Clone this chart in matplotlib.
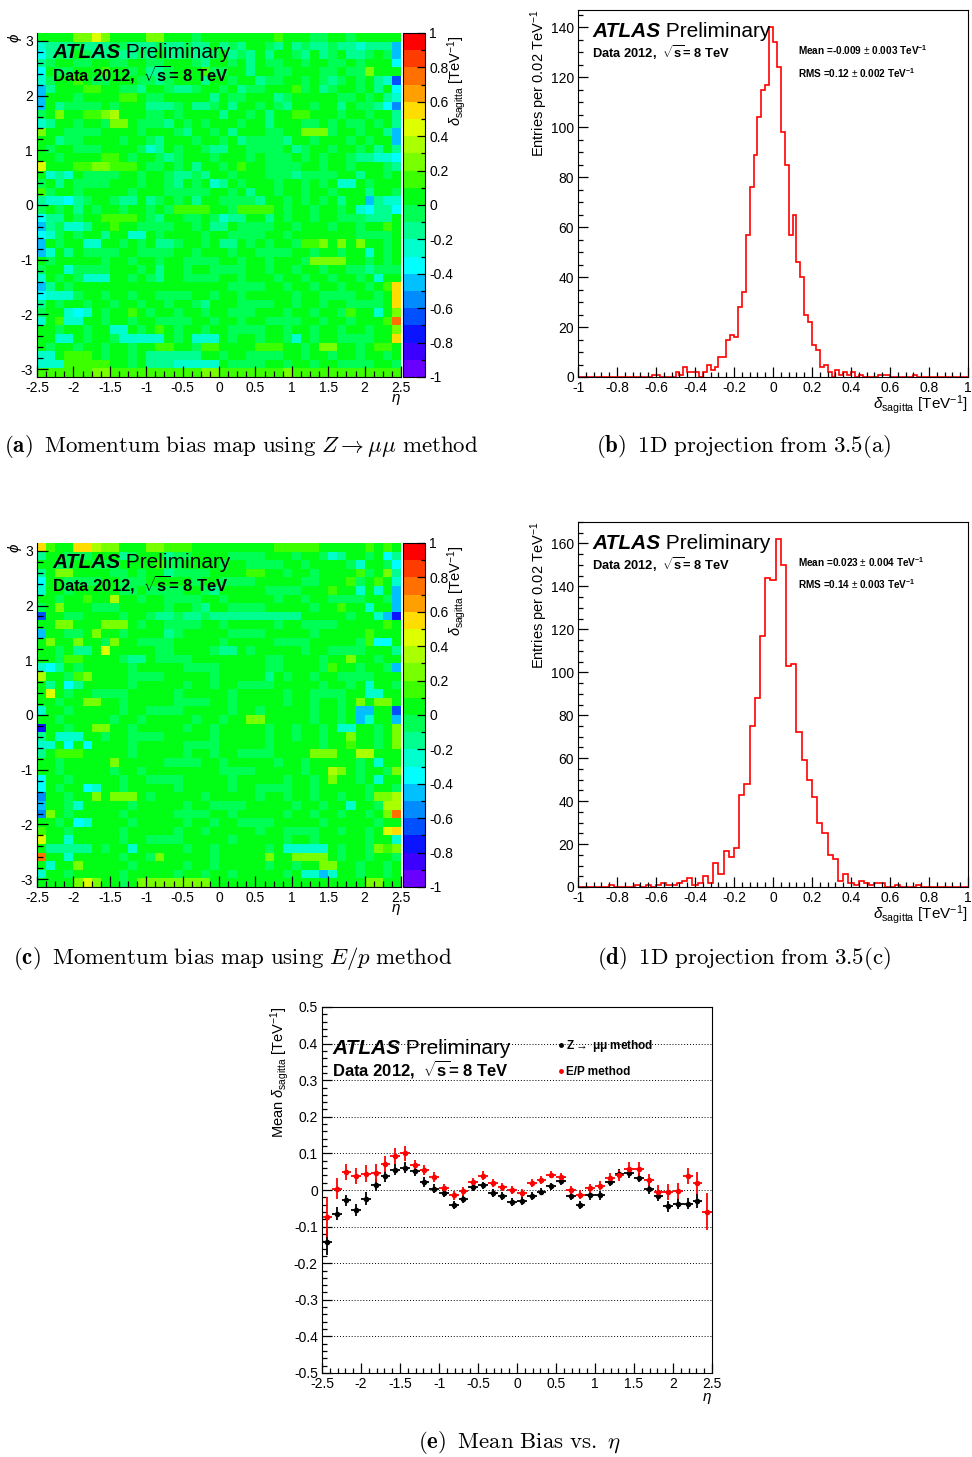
import numpy as np
import matplotlib
matplotlib.use('Agg')
import matplotlib.pyplot as plt
from matplotlib.colors import ListedColormap, BoundaryNorm
from matplotlib.ticker import MultipleLocator, FuncFormatter
from matplotlib.lines import Line2D

plt.rcParams['font.family'] = ['Liberation Sans', 'DejaVu Sans']
plt.rcParams['mathtext.fontset'] = 'custom'
plt.rcParams['mathtext.rm'] = 'Liberation Sans'
plt.rcParams['mathtext.it'] = 'Liberation Sans:italic'
plt.rcParams['mathtext.bf'] = 'Liberation Sans:bold'
plt.rcParams['axes.unicode_minus'] = False

W, H = 972, 1457

# ROOT-like palette, one colour per 0.1 step from -1 to 1
palette = ['#6a00ff', '#3c00ff', '#0a14ff', '#0050ff', '#008cff', '#00c0ff',
           '#00ffff', '#00ffcc', '#00ff90', '#00ff55', '#00ff14', '#3cff00',
           '#78ff00', '#aaff00', '#ddff00', '#ffdd00', '#ffa000', '#ff7000',
           '#ff3c00', '#ff0000']

# sagitta bias maps, one letter per (eta, phi) cell
# letter A..T = bin -1..-0.9 ... 0.9..1 ; rows go from phi=+pi (top) down
map_zmumu = [
    "KKKKMMOMKK KKMMKKKJKK KKKKKKLKKK JJKKJKKKKK",
    "HIIIJIIIJJ IIIJIIJIIK IJIKKJIKIJ IIJIIHIIIF",
    "GIJIKJIIJI IJIKIIJIIJ KIJIKIKKJI KIJKIIJKJF",
    "IJKKJJKKJJ KKJJKKKJIK KJKIKJJKKJ KKJJKJKKKG",
    "GKJJKKKLKK JKIIJKKKLJ JKKIKKJJKK KJJKJJMKKK",
    "HJKKLKJJKK KJJIJKKKIK KJKKIJJKKJ KJIJKJKIHD",
    "FIKKKLLKKJ JIKKJIIJKK JKIJJKKKLJ KIJKKJKIKG",
    "FKKKJKKKKL LKJJKKKKKI KJJKKKIJKK KKKJJKJKIH",
    "FKIJJJJKJK KKIIIJKIIJ KIKKJKJIKK JKKIKJJIGE",
    "JKMKKLLMNK KKJJKJKKKK IKKJKIKKLL KKKJKKJKKI",
    "HIKKJKKJMM KJJJIKJKJK KKJKKIKKKJ JKJKJJKJKI",
    "MKKJJJJKKK KJKKKJIKKJ KIKKKJJKKM MMJKKJKKIF",
    "KKIJJKKKKJ KKJIKKKJKK JKIJJJJIKK JKKKJKJKKF",
    "KJKKJJJKKK KJHIKJKKJI IKKJJJJKIJ KKJKKJKIKI",
    "KKJKKKKLLK JKKJIJKKKJ KKKJKJJJKJ KJKKJIIHHG",
    "OKKKLLMMLL LKJJKJKIKK JKLKKJJJJK KJKKJKKKJI",
    "KHIHKJJJJK KJKKJIIJIK KJKKKJJJIJ JJJKKIKKJK",
    "JKIKJJJJKK KJKKJIKJKH IKJKKKJKKJ KJKHHKJKKK",
    "LJKKJKKKKK JKKKJJJJJK KJKIKKJKKJ KKJKKKIKKJ",
    "IHHGIJKKJI IKIJKJKIKK JJJJIKKJKJ KJKIKKFIHH",
    "JKJKIKJKKJ KKJKJLLLLK KJLLLLKJKK JKKJKHGIIG",
    "GIIKJKKLLL LKJIKKJJKJ HIIKKIKJKK JKKJJJIIIK",
    "FIJHHIKKLK KJJJJKKJKI IKJJJJKKJK KKJKKJKKLK",
    "GHJKJKKIKK HHKJKKKKJK KJJJJKKJKK KKKKKJJJJK",
    "FKJKKHHKKJ KJKIIJKKJK IIKJKJKKJL LMKMKMKKJK",
    "FHKIKJJJJK KJJJJKKJKK KJKKJJJJKK JKKJKKHKJK",
    "KJKKKKKJKK JKKJKKJJJJ KKJKKJKKKJ MMMMKKJKJK",
    "JKKHJJJJKK KJKIKKJKKJ JJJKKJKKJK KJKKJJIJJJ",
    "HKJKJHHHKK JKJIKKJJJJ KKJKKKJKKJ KKJKKJKHKK",
    "FIKJKKKKKK KKKKKKKKKK KJJJJKKJKK JKKJKKJKLP",
    "GHHHJKKJKK JKKJJJJKKJ KKJKKKKKJK KJJJJKKJKP",
    "IKJKKJKKJK KJKKJKKJIK KKJJJJKKJK KJKKJJJJKP",
    "JKKHGHKJKK LKJKKJKKJK KJJJKKKJKK JKKJLKKHKM",
    "HKLHHKKJKK JKKJJJJKKJ KKJKKJJJJK KJKKJKKKLR",
    "KKJKKJKKHH KJKLKJKKJK KJJJJKKJKK JKKJKKJKKM",
    "KKHHKJKKJH HHHHKJKHHH KJKKJKKJHK JKKJJJJKKP",
    "KJKKJKKJKK JKKLLKKJLL KKKKLLLKKJ KMMKKJKLLK",
    "HHKLLLKJKK JKIIIIIIKK JKKJJJJKKJ KKJKKJKKJK",
    "HHHLLLLLKK JKIIIHHHHH KJJJJKKJKK JKKJJJJKKJ",
    "LLLLLLMMLL LLLLLLLLMM LLLLLLLMLL LLLLLLLLLL",
]

map_ep = [
    "PLKKPPNMMK KKMMLLLKKK KKKKKKLLLL LKKKKKLKLK",
    "IKKJJJKKKI JKKKIJJKKK KJJJJKKKJK KJHIKKJKGI",
    "KKJJKKJJJK KKKLJJKKKK JKKJJJJKKJ KKKKJHKKJG",
    "IKMMKKKKJJ KJKKIJJJJK KKKLLKKJKK JKKKKLJKMI",
    "GKKJJJJKKJ JJKKKKKJKK JJJJKKKKKJ JKKKLJKLKH",
    "HKKJKKKKKJ JKJJJJKKJI KKKKKJJJJK KKLKKHKHKF",
    "KKJKKLKKNK KJKKJJJJKK JKKKKKJKKJ KKJJJJKKJF",
    "JKMKKKJJJK KKKKJKKJIK KJJJJKKKKK JKKLKKHKKF",
    "DKKJJKKKKJ KKJIIJIIJI IIIIIIIIIK KKKKJKKHFC",
    "KKMMKKKMMM KJKKJJJJKK JKKKKKJKKJ JJJKKKKKLK",
    "FKKJJKMKKJ KKKKIJKKKK KJJJJKKKKK JKKKKKLKKK",
    "KMKKMKKJMK KJJJJKKKKK JKKKKKJJJJ KKKKKJLGGK",
    "KKJKIIKOKK KKKJJKKKKJ IIKJKKKKKJ KKJJJJKKKI",
    "KKJLLKKKKJ IIKJJJJKKK KKKKKJJKKK KJKKMKKJKK",
    "HGIKJKKKKK JKKKKKJJJJ KKKKKJJKKK KJLKKJKKJF",
    "NKKJLMKKKK JJJJKKKKKJ KKKKKIKJKK JKKJJJJKKK",
    "KIKGIKKKKK JKKKKKJKKJ KKJJJJKKKK KJKKJKHKKJ",
    "KOKJKKJJJJ KKKKKJKKKK KJKKKKKJKK JJJJKKHHKK",
    "KKJKKMMKKJ KKKKKJJJJK KJKKKKKJKK JKKJKMKMMK",
    "HKKJKKKKKJ KKJJJJKKKK KJKKJKKKKK JKKJKFFKKD",
    "KKJKKKKKJK KJKKKKKJKK JKKMMKKKKK JKKJKFHKKF",
    "CKKJKKMMKK JKKKKKJKKJ KKKKKJKKJK KJKHHKKJKM",
    "IKHHHKKJKK JJJJKKKKKJ KKKKKJKKJK KJKKMKKJKM",
    "HHKGKGKKKK JKKKKKJJJJ KKKKKJKKKK KJKKLKKJKM",
    "IKLLLKKKKK JKKKKKJKKJ KKJJJJKKKK MMMKKNNKKK",
    "KKJKKKKKMK KKKKJJJJKK JKKKKKJKKJ KKKKKJKHKK",
    "KKJKKKKKJK KJKKKKKKKK JJJJKKKKKJ KKNMKJKKJM",
    "GKKJKKKKKJ KKJJJJKKKK KJKKKKKJKK JKMKKJKHKK",
    "GKJKKGHKKJ KKKKKJKKKK KJKKJJJJKK JKKKKKJKKJ",
    "EKKJKKMKMM MKJKKKKKJK KKKKJKKJKK JKKJKKJMMN",
    "FKKJHKKKKK JKKKKKJKKJ JJJKKKKKJK KJKKHKKJNN",
    "EMKJKKKKKJ KKKKKJJJJK KJKKKKKJKK JKKJKKJKMR",
    "KKJKGHKKKK JKKKKKJKKJ KKJJJJKKKK KJKKKKKJKK",
    "LKKJKKKKKJ KKKKKJKKJK KKKKJKKJJJ JKKJKKJKOP",
    "OKKHKKKKKJ KKJJJJKKKK KJKKKKKJKK JKKKKKJKKH",
    "KIIIIIKJKK HKKKKKJKKJ KKKKKJKHHH HHKJKKJMLM",
    "RKKHKKKKKJ KKJMKKKKKJ KKKKKMKKMM MMKJKKJKKJ",
    "KHKKMKKKKK JKKKKKJKKJ KKKKKJKKJK KMMKKJKKJK",
    "HKKJKKKKKJ KKKKKJKKJK KJKKKKKJKH HFHKKJKKJK",
    "KKKKMOMKKJ KMMMMMMMMK KKKKKKKKKK KKKKKKMMKK",
]

# 1D projections (entries per bin)
proj_zmumu = [0] * 19 + [1, 1, 0, 0, 0, 0, 2, 1, 4, 2, 2, 2, 0, 2, 5, 3, 4, 8, 8,
              15, 17, 16, 28, 34, 57, 76, 89, 104, 115, 117, 140, 134, 124, 98,
              85, 57, 65, 46, 40, 25, 22, 13, 11, 4, 5, 2, 0, 3, 1, 2, 1, 2, 0,
              1, 0, 0, 0, 0, 1, 1, 1, 0, 0, 0, 0, 0, 0, 1] + [0] * 13
proj_ep = [0, 0, 0, 0, 0, 0, 1, 0, 0, 0, 0, 1, 0, 1, 0, 1, 2, 1, 1, 2, 3, 4,
           1, 2, 5, 2, 11, 6, 17, 14, 18, 43, 48, 75, 88, 117, 144, 143, 162,
           150, 103, 104, 72, 59, 50, 42, 30, 25, 15, 13, 3, 6, 2, 1, 3, 2, 1,
           2, 2, 0, 0, 1, 0, 0, 0, 1] + [0] * 9

# mean bias vs eta
zmumu_mean = [-0.142, -0.065, -0.028, -0.054, -0.024, 0.013, 0.037, 0.056,
              0.061, 0.051, 0.022, 0.004, -0.007, -0.040, -0.024, 0.007, 0.013,
              -0.008, -0.016, -0.033, -0.030, -0.016, -0.005, 0.010, 0.024,
              -0.016, -0.040, -0.015, -0.015, 0.022, 0.045, 0.046, 0.034, 0.004,
              -0.016, -0.045, -0.037, -0.037, -0.030, np.nan]
zmumu_err = [0.035, 0.018, 0.015, 0.017, 0.018, 0.017, 0.016, 0.016, 0.015,
             0.013, 0.013, 0.012, 0.011, 0.011, 0.011, 0.011, 0.010, 0.011,
             0.011, 0.011, 0.011, 0.011, 0.010, 0.010, 0.010, 0.011, 0.011,
             0.011, 0.011, 0.012, 0.012, 0.013, 0.013, 0.014, 0.015, 0.016,
             0.016, 0.016, 0.018, np.nan]
ep_mean = [-0.073, 0.004, 0.050, 0.038, 0.045, 0.046, 0.071, 0.094, 0.100,
           0.068, 0.055, 0.035, 0.005, -0.015, -0.004, 0.021, 0.039, 0.019,
           0.008, 0.000, -0.009, 0.019, 0.027, 0.042, 0.036, 0.001, -0.013,
           0.005, 0.012, 0.034, 0.040, 0.057, 0.057, 0.027, -0.005, -0.005,
           -0.002, 0.039, 0.018, -0.059]
ep_err = [0.055, 0.028, 0.022, 0.022, 0.024, 0.024, 0.022, 0.022, 0.020,
          0.015, 0.013, 0.013, 0.012, 0.012, 0.012, 0.012, 0.012, 0.011, 0.011,
          0.011, 0.011, 0.010, 0.010, 0.010, 0.010, 0.011, 0.012, 0.012, 0.012,
          0.013, 0.015, 0.020, 0.020, 0.017, 0.018, 0.022, 0.022, 0.022, 0.030,
          0.050]

stats_zmumu = ('-0.009', '0.003', '0.12', '0.002')
stats_ep = ('0.023', '0.004', '0.14', '0.003')

cmap = ListedColormap(palette)
norm = BoundaryNorm(np.linspace(-1, 1, 21), cmap.N)
eta_edges = np.linspace(-2.5, 2.5, 41)
phi_edges = np.linspace(-np.pi, np.pi, 41)
eta_centres = 0.5 * (eta_edges[:-1] + eta_edges[1:])

fig = plt.figure(figsize=(W / 100, H / 100), dpi=100)
fmt = FuncFormatter(lambda v, p: '%g' % (0.0 if abs(v) < 1e-9 else round(v, 6)))
SAG = r'$\delta_{\mathregular{sagitta}}$ [TeV$^{\mathregular{-1}}$]'


def px_axes(x0, y0, x1, y1):
    return fig.add_axes([x0 / W, 1 - y1 / H, (x1 - x0) / W, (y1 - y0) / H])


def decode(rows):
    grid = np.array([[ord(c) - ord('A') for c in r.replace(' ', '')] for r in rows], float)
    return np.flipud(-0.95 + 0.1 * grid)


def root_axis(ax, xmaj, xmin, ymaj, ymin, majlen=7):
    ax.xaxis.set_major_locator(MultipleLocator(xmaj))
    ax.xaxis.set_minor_locator(MultipleLocator(xmin))
    ax.yaxis.set_major_locator(MultipleLocator(ymaj))
    ax.yaxis.set_minor_locator(MultipleLocator(ymin))
    ax.xaxis.set_major_formatter(fmt)
    ax.yaxis.set_major_formatter(fmt)
    ax.tick_params(which='both', direction='in', top=False, right=False,
                   labelsize=10, width=0.9, pad=3)
    ax.tick_params(which='major', length=majlen)
    ax.tick_params(which='minor', length=majlen / 2)


def atlas_label(ax, x, y, data_y, data_size):
    t = ax.text(x, y, 'ATLAS', transform=ax.transAxes, fontsize=15,
                fontweight='bold', fontstyle='italic', va='bottom')
    ax.annotate(' Preliminary', xy=(1, 0), xycoords=t, fontsize=15, va='bottom')
    ax.text(x, data_y, r'Data 2012,  $\sqrt{\mathbf{s}}$= 8 TeV', transform=ax.transAxes,
            fontsize=data_size, fontweight='bold', va='bottom')


def draw_map(top, rows):
    ax = px_axes(37, top, 401, top + 344)
    mesh = ax.pcolormesh(eta_edges, phi_edges, decode(rows), cmap=cmap, norm=norm,
                         antialiased=False, linewidth=0)
    ax.set_xlim(-2.5, 2.5)
    ax.set_ylim(-np.pi, np.pi)
    root_axis(ax, 0.5, 0.125, 1, 0.2, majlen=8)
    ax.spines['top'].set_visible(False)
    ax.spines['right'].set_visible(False)
    atlas_label(ax, 0.041, 0.915, 0.848, 12)
    ax.text(-0.06, 1.0, r'$\phi$', transform=ax.transAxes, rotation=90,
            ha='center', va='top', fontsize=11)
    ax.text(1.0, -0.045, r'$\eta$', transform=ax.transAxes, ha='right', va='top',
            fontsize=11)
    cax = px_axes(403, top, 425, top + 344)
    cb = fig.colorbar(mesh, cax=cax, ticks=np.linspace(-1, 1, 11))
    cb.outline.set_linewidth(0.8)
    cax.yaxis.set_major_formatter(fmt)
    cax.yaxis.set_minor_locator(MultipleLocator(0.1))
    cax.tick_params(which='both', direction='in', right=True, left=False,
                    labelright=True, labelsize=10, pad=3, width=0.9)
    cax.tick_params(which='major', length=6)
    cax.tick_params(which='minor', length=3)
    fig.text(457 / W, 1 - (top + 2) / H, SAG, rotation=90, ha='center', va='top',
             fontsize=10.5)


def draw_proj(top, bottom, counts, ymax, stats):
    ax = px_axes(578, top, 968, bottom)
    edges = np.linspace(-1, 1, len(counts) + 1)
    ax.stairs(counts, edges, color='red', lw=1.2)
    ax.set_xlim(-1, 1)
    ax.set_ylim(0, ymax)
    root_axis(ax, 0.2, 0.04, 20, 5)
    atlas_label(ax, 0.036, 0.915, 0.858, 9.3)
    ax.text(0.564, 0.872, r'Mean =%s $\pm$ %s TeV$^{\mathbf{-1}}$' % stats[:2],
            transform=ax.transAxes, fontsize=7.2, fontweight='bold', va='bottom')
    ax.text(0.564, 0.81, r'RMS =%s $\pm$ %s TeV$^{\mathbf{-1}}$' % stats[2:],
            transform=ax.transAxes, fontsize=7.2, fontweight='bold', va='bottom')
    ax.text(-0.1, 1.0, r'Entries per 0.02 TeV$^{\mathregular{-1}}$',
            transform=ax.transAxes, rotation=90, ha='center', va='top', fontsize=10.5)
    ax.text(1.0, -0.043, SAG, transform=ax.transAxes, ha='right', va='top',
            fontsize=11)


def caption(x, y, s):
    fig.text(x / W, 1 - y / H, s, ha='center', va='center', fontsize=16.5,
             math_fontfamily='cm')


draw_map(33, map_zmumu)
draw_map(543, map_ep)
draw_proj(10, 377, proj_zmumu, 147, stats_zmumu)
draw_proj(522, 887, proj_ep, 170, stats_ep)

# mean bias vs eta
ax = px_axes(322, 1007, 712, 1373)
ax.errorbar(eta_centres, zmumu_mean, yerr=zmumu_err, xerr=0.0625, fmt='o',
            color='black', ms=3, elinewidth=1.3, capsize=0)
ax.errorbar(eta_centres, ep_mean, yerr=ep_err, xerr=0.0625, fmt='o',
            color='red', ms=3, elinewidth=1.3, capsize=0)
ax.set_xlim(-2.5, 2.5)
ax.set_ylim(-0.5, 0.5)
root_axis(ax, 0.5, 0.1, 0.1, 0.02)
ax.yaxis.grid(True, which='major', linestyle=(0, (1, 2)), color='black', lw=0.7)
atlas_label(ax, 0.026, 0.862, 0.8, 12)
handles = [Line2D([], [], marker='o', ms=2.5, color='black', ls='none'),
           Line2D([], [], marker='o', ms=2.5, color='red', ls='none')]
ax.legend(handles, ['Z$\\rightarrow$ \u03bc\u03bc method', 'E/P method'],
          loc='upper left', bbox_to_anchor=(0.608, 0.914), frameon=False,
          handlelength=0.3, handletextpad=0.25, borderpad=0, borderaxespad=0,
          labelspacing=1.0, prop={'weight': 'bold', 'size': 8.5})
ax.text(-0.11, 1.0, 'Mean ' + SAG, transform=ax.transAxes, rotation=90,
        ha='center', va='top', fontsize=10.5)
ax.text(1.0, -0.05, r'$\eta$', transform=ax.transAxes, ha='right', va='top',
        fontsize=11)

caption(241, 447, r'$\mathbf{(a)}\;\;\mathrm{Momentum\ bias\ map\ using}\ Z\rightarrow\mu\mu\ \mathrm{method}$')
caption(744, 447, r'$\mathbf{(b)}\;\;\mathrm{1D\ projection\ from\ 3.5(a)}$')
caption(233, 958, r'$\mathbf{(c)}\;\;\mathrm{Momentum\ bias\ map\ using}\ E/p\ \mathrm{method}$')
caption(744, 958, r'$\mathbf{(d)}\;\;\mathrm{1D\ projection\ from\ 3.5(c)}$')
caption(520, 1443, r'$\mathbf{(e)}\;\;\mathrm{Mean\ Bias\ vs.}\ \eta$')

fig.savefig('out.png', dpi=100)
